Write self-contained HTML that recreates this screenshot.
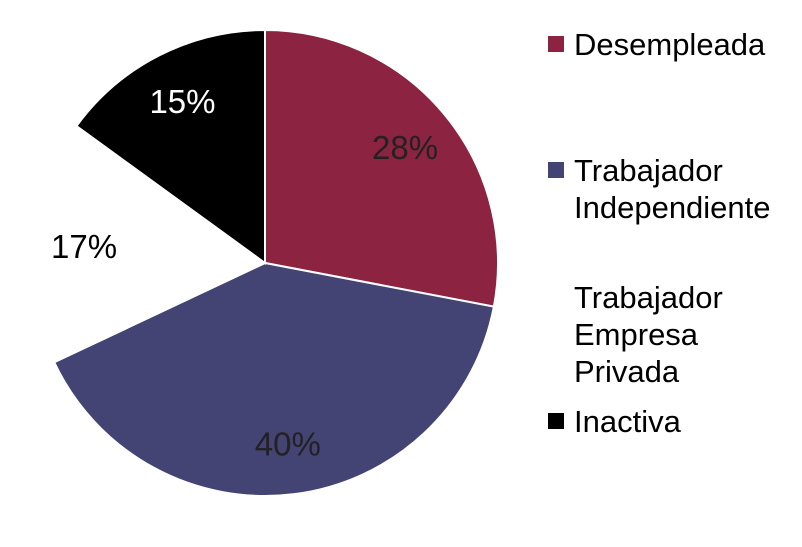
<!DOCTYPE html>
<html><head><meta charset="utf-8"><style>
html,body{margin:0;padding:0;background:#fff;}
svg{display:block;font-family:"Liberation Sans",Arial,sans-serif;}
</style></head><body>
<svg id="chart" width="802" height="547"></svg>
<script>
const categories=["Desempleada","Trabajador Independiente","Trabajador Empresa Privada","Inactiva"];
const values=[28,40,17,15];
const colors=["#8B2341","#434374","#FFFFFF","#000000"];
const labelColors=["#222","#222","#000","#fff"];
const legendLines=[["Desempleada"],["Trabajador","Independiente"],["Trabajador","Empresa","Privada"],["Inactiva"]];
const NS="http://www.w3.org/2000/svg";
const svg=document.getElementById('chart');
const cx=265,cy=263,r=233;
const total=values.reduce((a,b)=>a+b,0);
function pt(a,rr){return [cx+rr*Math.sin(a),cy-rr*Math.cos(a)];}
let acc=0;
values.forEach((v,i)=>{
  const a0=acc/total*2*Math.PI; acc+=v; const a1=acc/total*2*Math.PI;
  const p0=pt(a0,r),p1=pt(a1,r);
  const path=document.createElementNS(NS,'path');
  path.setAttribute('d',`M${cx},${cy} L${p0[0]},${p0[1]} A${r},${r} 0 ${a1-a0>Math.PI?1:0} 1 ${p1[0]},${p1[1]} Z`);
  path.setAttribute('fill',colors[i]);
  path.setAttribute('stroke','#fff');
  path.setAttribute('stroke-width','2');
  
  
  svg.appendChild(path);
  const am=(a0+a1)/2; const lp=pt(am,r*0.78);
  const t=document.createElementNS(NS,'text');
  t.setAttribute('x',lp[0]);t.setAttribute('y',lp[1]+12);
  t.setAttribute('text-anchor','middle');t.setAttribute('font-size','33');
  t.setAttribute('fill',labelColors[i]);
  t.textContent=v+'%';
  
  
  svg.appendChild(t);
});
const legendY=[55,181,308,432];
legendLines.forEach((lines,i)=>{
  const g=document.createElementNS(NS,'g');
  
  
  const rc=document.createElementNS(NS,'rect');
  rc.setAttribute('x',548);rc.setAttribute('y',legendY[i]-19);
  rc.setAttribute('width',16);rc.setAttribute('height',16);
  rc.setAttribute('fill',colors[i]);
  g.appendChild(rc);
  lines.forEach((ln,j)=>{
    const t=document.createElementNS(NS,'text');
    t.setAttribute('x',574);t.setAttribute('y',legendY[i]+j*37);
    t.setAttribute('font-size','31');t.setAttribute('fill','#000');
    t.textContent=ln;
    g.appendChild(t);
  });
  svg.appendChild(g);
});
</script>
</body></html>
